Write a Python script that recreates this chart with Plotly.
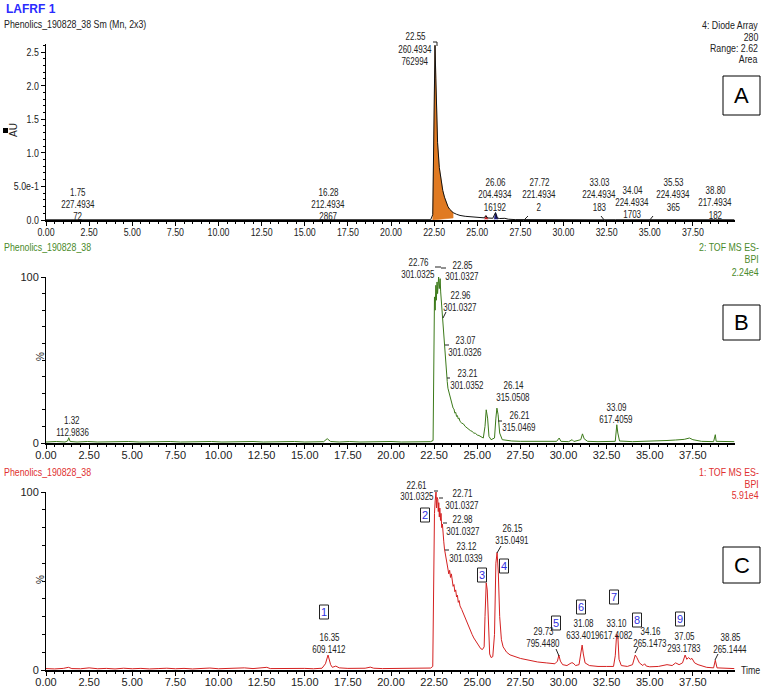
import plotly.graph_objects as go

W, H = 763, 688

# ---------------- data ----------------
# Panel A : Diode array 280 nm (AU)
uv_time = [0.0, 1.0, 1.75, 2.5, 5.0, 7.5, 10.0, 12.5, 15.0, 16.1, 16.28, 16.45, 18.0, 20.0, 22.3,
           22.42, 22.47, 22.5, 22.55, 22.6, 22.65, 22.7, 22.8, 22.9, 23.0, 23.1, 23.2, 23.3, 23.4,
           23.6, 23.8, 24.0, 24.3, 24.6, 25.0, 25.4, 25.5, 25.6, 25.9, 26.06, 26.15, 26.3, 26.6,
           26.8, 27.2, 28.0, 30.0, 32.0, 33.03, 34.04, 35.53, 37.0, 38.8, 39.9]
uv_au = [0.003, 0.003, 0.004, 0.003, 0.003, 0.003, 0.003, 0.003, 0.003, 0.004, 0.012, 0.004, 0.003,
         0.003, 0.004, 0.08, 1.2, 2.35, 2.6, 2.1, 1.55, 1.15, 0.78, 0.58, 0.44, 0.34, 0.26, 0.2,
         0.16, 0.11, 0.085, 0.068, 0.055, 0.046, 0.038, 0.032, 0.065, 0.03, 0.026, 0.11, 0.03,
         0.022, 0.025, 0.012, 0.006, 0.004, 0.003, 0.003, 0.004, 0.006, 0.004, 0.003, 0.004, 0.003]
uv_main_time = [22.42, 22.47, 22.5, 22.55, 22.6, 22.65, 22.7, 22.8, 22.9, 23.0, 23.1, 23.2, 23.3,
                23.4, 23.6, 23.6, 22.42]
uv_main_au = [0.0, 1.2, 2.35, 2.6, 2.1, 1.55, 1.15, 0.78, 0.58, 0.44, 0.34, 0.26, 0.2, 0.16, 0.11,
              0.03, 0.0]
uv_p2_time = [25.42, 25.5, 25.56, 25.62]
uv_p2_au = [0.01, 0.065, 0.05, 0.01]
uv_p3_time = [25.98, 26.06, 26.12, 26.2]
uv_p3_au = [0.01, 0.11, 0.08, 0.01]

# Panel B : TOF MS ES- BPI 2.24e4 (%)
bpi2_time = [0.0, 0.6, 1.1, 1.25, 1.32, 1.4, 1.8, 2.4, 3.0, 3.6, 4.2, 4.8, 5.4, 6.0, 6.6, 7.2, 7.8,
             8.4, 9.0, 9.6, 10.2, 10.8, 11.4, 12.0, 12.6, 13.2, 13.8, 14.4, 15.0, 15.6, 16.1, 16.3,
             16.5, 17.0, 17.6, 18.2, 18.8, 19.4, 20.0, 20.6, 21.2, 21.8, 22.3, 22.44, 22.48, 22.52,
             22.56, 22.6, 22.63, 22.67, 22.7, 22.73, 22.76, 22.8, 22.85, 22.88, 22.92, 22.96, 23.0,
             23.04, 23.07, 23.12, 23.16, 23.21, 23.26, 23.3, 23.35, 23.4, 23.45, 23.5, 23.55, 23.6,
             23.65, 23.7, 23.75, 23.8, 23.85, 23.9, 23.95, 24.0, 24.1, 24.2, 24.3, 24.4, 24.5, 24.6,
             24.7, 24.8, 24.9, 25.0, 25.1, 25.2, 25.35, 25.45, 25.52, 25.6, 25.68, 25.8, 26.0, 26.08,
             26.14, 26.21, 26.3, 26.45, 26.7, 27.0, 27.5, 28.0, 29.0, 29.6, 29.75, 29.85, 30.3, 30.5,
             30.6, 31.0, 31.1, 31.2, 31.4, 32.0, 33.0, 33.05, 33.09, 33.15, 33.25, 34.0, 35.0, 36.0,
             36.5, 37.0, 37.3, 37.5, 38.0, 38.7, 38.8, 38.85, 39.9]
bpi2_pct = [0.6, 0.9, 0.6, 1.2, 3.2, 0.9, 0.6, 0.9, 0.6, 0.8, 0.6, 0.9, 0.6, 0.8, 0.6, 0.9, 0.6, 0.8,
            0.6, 0.9, 0.6, 0.8, 0.6, 0.9, 0.6, 0.8, 0.6, 0.9, 0.6, 0.8, 0.8, 2.6, 0.9, 0.6, 0.9, 0.6,
            0.8, 0.6, 0.9, 0.6, 0.8, 0.6, 0.8, 1.5, 55.0, 88.0, 80.0, 95.0, 86.0, 97.0, 90.0, 96.0,
            100.0, 93.0, 99.0, 91.0, 85.0, 76.0, 70.0, 64.0, 60.0, 52.0, 46.0, 40.0, 37.0, 33.0,
            31.0, 28.5, 27.0, 24.5, 23.5, 21.0, 20.5, 18.0, 18.5, 16.0, 16.5, 14.5, 15.0, 13.0, 12.0,
            11.5, 10.0, 9.0, 8.5, 7.5, 7.0, 6.0, 5.8, 4.8, 4.5, 3.8, 3.0, 10.0, 20.0, 15.0, 4.0, 2.0,
            3.0, 15.0, 21.0, 17.0, 6.0, 2.0, 1.5, 1.2, 1.0, 0.9, 0.8, 1.0, 3.0, 1.0, 0.8, 2.0, 0.9,
            2.0, 5.5, 2.5, 1.0, 0.8, 1.0, 8.0, 11.0, 6.0, 1.2, 0.8, 1.0, 1.5, 1.8, 2.2, 3.0, 2.0, 1.0,
            0.8, 5.0, 1.0, 0.8]

# Panel C : TOF MS ES- BPI 5.91e4 (%)
bpi1_time = [0.0, 0.5, 1.0, 1.3, 1.5, 2.0, 2.5, 3.0, 3.5, 4.0, 4.5, 5.0, 5.5, 6.0, 6.5, 7.0, 7.5,
             8.0, 8.5, 9.0, 9.5, 10.0, 10.5, 11.0, 11.5, 12.0, 12.5, 12.8, 13.0, 13.5, 14.0, 14.5,
             15.0, 15.5, 16.0, 16.2, 16.35, 16.5, 16.6, 16.8, 17.0, 17.5, 18.0, 18.5, 18.8, 19.0,
             19.5, 20.0, 20.5, 21.0, 21.5, 22.0, 22.3, 22.42, 22.48, 22.52, 22.56, 22.61, 22.64,
             22.67, 22.71, 22.74, 22.77, 22.8, 22.83, 22.87, 22.9, 22.94, 22.98, 23.02, 23.06, 23.1,
             23.12, 23.18, 23.25, 23.3, 23.35, 23.4, 23.45, 23.5, 23.55, 23.6, 23.65, 23.7, 23.75,
             23.8, 23.85, 23.9, 23.95, 24.0, 24.1, 24.2, 24.3, 24.4, 24.5, 24.6, 24.7, 24.8, 24.9,
             25.0, 25.1, 25.2, 25.3, 25.4, 25.45, 25.52, 25.58, 25.65, 25.72, 25.8, 25.9, 26.0,
             26.08, 26.15, 26.22, 26.3, 26.4, 26.5, 26.7, 26.9, 27.2, 27.5, 28.0, 28.5, 29.0, 29.5,
             29.65, 29.73, 29.82, 29.95, 30.2, 30.45, 30.55, 30.7, 30.9, 31.0, 31.08, 31.15, 31.25,
             31.5, 32.0, 32.5, 32.9, 33.0, 33.08, 33.15, 33.22, 33.35, 33.7, 34.0, 34.1, 34.16, 34.25,
             34.4, 34.6, 34.7, 34.8, 35.0, 35.5, 35.8, 36.0, 36.3, 36.5, 36.7, 36.9, 37.05, 37.15,
             37.25, 37.35, 37.45, 37.6, 37.8, 38.0, 38.3, 38.7, 38.8, 38.9, 39.2, 39.9]
bpi1_pct = [0.8, 0.6, 0.9, 1.5, 0.8, 0.7, 1.2, 0.7, 0.9, 0.6, 1.0, 0.7, 0.9, 0.6, 0.8, 1.0, 0.7, 0.9,
            0.6, 0.8, 1.1, 0.7, 0.9, 0.7, 1.2, 0.8, 1.0, 1.5, 0.8, 0.9, 0.7, 0.8, 0.9, 0.7, 1.0, 3.5,
            8.4, 3.0, 1.5, 2.2, 1.2, 0.9, 0.8, 1.0, 1.6, 1.0, 0.8, 0.9, 0.7, 0.9, 0.8, 1.0, 1.1, 2.0,
            60.0, 88.0, 95.0, 100.0, 91.0, 97.0, 96.0, 89.0, 94.0, 86.0, 91.0, 84.0, 88.0, 80.0,
            82.0, 74.0, 72.0, 68.0, 67.0, 62.0, 60.0, 57.0, 54.0, 56.0, 52.0, 54.0, 49.0, 47.0, 48.0,
            44.0, 45.0, 41.0, 42.0, 38.0, 39.0, 36.0, 34.0, 31.5, 29.0, 27.0, 24.0, 22.0, 20.0,
            18.0, 16.5, 14.5, 13.5, 12.0, 11.5, 13.0, 30.0, 49.0, 45.0, 20.0, 9.0, 7.0, 7.5, 20.0,
            60.0, 66.0, 55.0, 30.0, 17.0, 13.0, 10.0, 8.5, 7.5, 6.5, 5.5, 4.5, 4.0, 3.5, 5.0, 8.4,
            5.0, 3.0, 2.5, 4.0, 4.0, 2.5, 3.0, 9.0, 14.0, 9.0, 4.0, 2.5, 2.0, 2.0, 2.0, 8.0, 20.0,
            19.0, 6.0, 2.5, 2.0, 3.0, 7.0, 8.4, 7.0, 4.0, 2.5, 3.5, 2.2, 1.8, 2.0, 2.5, 3.0, 2.5, 4.0,
            3.0, 4.0, 8.4, 6.0, 7.0, 6.0, 6.5, 4.0, 3.0, 2.5, 1.5, 1.2, 5.5, 1.2, 1.0, 0.8]

x_tick_vals = [0, 2.5, 5, 7.5, 10, 12.5, 15, 17.5, 20, 22.5, 25, 27.5, 30, 32.5, 35, 37.5]
x_tick_text = ["0.00", "2.50", "5.00", "7.50", "10.00", "12.50", "15.00", "17.50", "20.00",
               "22.50", "25.00", "27.50", "30.00", "32.50", "35.00", "37.50"]
ya_tick_vals = [0, 0.5, 1.0, 1.5, 2.0, 2.5]
ya_tick_text = ["0.0", "5.0e-1", "1.0", "1.5", "2.0", "2.5"]

# peak labels (text)
labels_a = [["22.55", "260.4934", "762994"], ["1.75", "227.4934", "72"],
            ["16.28", "212.4934", "2867"], ["26.06", "204.4934", "16192"],
            ["27.72", "221.4934", "2"], ["33.03", "224.4934", "183"],
            ["34.04", "224.4934", "1703"], ["35.53", "224.4934", "365"],
            ["38.80", "217.4934", "182"]]
labels_b = [["22.76", "301.0325"], ["22.85", "301.0327"], ["22.96", "301.0327"],
            ["23.07", "301.0326"], ["23.21", "301.0352"], ["26.14", "315.0508"],
            ["26.21", "315.0469"], ["33.09", "617.4059"], ["1.32", "112.9836"]]
labels_c = [["22.61", "301.0325"], ["22.71", "301.0327"], ["22.98", "301.0327"],
            ["23.12", "301.0339"], ["26.15", "315.0491"], ["29.73", "795.4480"],
            ["31.08", "633.4019"], ["33.10", "617.4082"], ["34.16", "265.1473"],
            ["37.05", "293.1783"], ["38.85", "265.1444"], ["16.35", "609.1412"]]
compound_ids = ["1", "2", "3", "4", "5", "6", "7", "8", "9"]

# ---------------- figure ----------------
FONT = "Liberation Sans, Arial, sans-serif"
FS = 10


def fx(px):
    return px / W


def fy(py):
    return 1 - py / H


fig = go.Figure()
fig.add_trace(go.Scatter(x=uv_main_time, y=uv_main_au, fill="toself", fillcolor="#e07a22",
                         line=dict(color="#e07a22", width=0.5), mode="lines",
                         xaxis="x", yaxis="y", hoverinfo="skip"))
fig.add_trace(go.Scatter(x=uv_p2_time, y=uv_p2_au, fill="toself", fillcolor="#c81e1e",
                         line=dict(color="#c81e1e", width=0.5), mode="lines",
                         xaxis="x", yaxis="y"))
fig.add_trace(go.Scatter(x=uv_p3_time, y=uv_p3_au, fill="toself", fillcolor="#1a1a80",
                         line=dict(color="#1a1a80", width=0.5), mode="lines",
                         xaxis="x", yaxis="y"))
fig.add_trace(go.Scatter(x=uv_time, y=uv_au, mode="lines", line=dict(color="#111111", width=1),
                         xaxis="x", yaxis="y"))
fig.add_trace(go.Scatter(x=bpi2_time, y=bpi2_pct, mode="lines",
                         line=dict(color="#3c7a1a", width=1), xaxis="x2", yaxis="y2"))
fig.add_trace(go.Scatter(x=bpi1_time, y=bpi1_pct, mode="lines",
                         line=dict(color="#d42020", width=1), xaxis="x3", yaxis="y3"))

XL, XR = 46, 735
xr = [0, (XR - XL) / 17.25]
panels = [(44, 220), (277, 443), (492, 670)]

xcommon = dict(range=xr, domain=[fx(XL), fx(XR)], tickmode="array", tickvals=x_tick_vals,
               ticktext=x_tick_text, showline=True, linecolor="black", linewidth=2,
               ticks="outside", ticklen=4, tickwidth=1, tickcolor="black", automargin=False,
               ticklabelstandoff=-3,
               minor=dict(dtick=0.5, ticks="outside", ticklen=2, tickcolor="black"),
               showgrid=False, zeroline=False,
               tickfont=dict(family=FONT, size=11, color="#222"), fixedrange=True)
ycommon = dict(showline=True, linecolor="black", linewidth=1, ticks="outside", ticklen=4,
               tickcolor="black", showgrid=False, zeroline=False, automargin=False,
               tickfont=dict(family=FONT, size=11, color="#222"), fixedrange=True)

layout = dict(width=W, height=H, autosize=False, margin=dict(l=0, r=0, t=0, b=0, pad=0),
              showlegend=False, plot_bgcolor="white", paper_bgcolor="white")
for i, (top, bot) in enumerate(panels):
    xs = "xaxis" if i == 0 else f"xaxis{i+1}"
    ys = "yaxis" if i == 0 else f"yaxis{i+1}"
    yname = "y" if i == 0 else f"y{i+1}"
    xname = "x" if i == 0 else f"x{i+1}"
    layout[xs] = dict(xcommon, anchor=yname)
    ydict = dict(ycommon, anchor=xname, domain=[fy(bot), fy(top)])
    if i == 0:
        ydict.update(range=[0, 2.62], tickmode="array", tickvals=ya_tick_vals,
                     ticktext=ya_tick_text,
                     minor=dict(dtick=0.1, ticks="outside", ticklen=2, tickcolor="black"))
    else:
        ydict.update(range=[0, 100], tickmode="array", tickvals=[0, 100], ticktext=["0", "100"],
                     minor=dict(tickmode="array", tickvals=list(range(10, 100, 10)),
                                ticks="outside", ticklen=3, tickcolor="black"))
    layout[ys] = ydict
fig.update_layout(**layout)

ann = []
shapes = []


def text(x, y, s, color="#222", size=FS, anchor="center", family=FONT, angle=0, bold=False):
    if bold:
        s = f"<b>{s}</b>"
    ann.append(dict(x=fx(x), y=fy(y), xref="paper", yref="paper", text=s, showarrow=False,
                    xanchor=anchor, yanchor="middle", textangle=angle, borderpad=0,
                    font=dict(family=family, size=size, color=color)))


def block(x, y0, lines, step=12, color="#222"):
    for k, s in enumerate(lines):
        text(x, y0 + k * step, s, color=color)


def line(x0, y0, x1, y1, color="#222", w=1):
    shapes.append(dict(type="line", xref="paper", yref="paper", x0=fx(x0), y0=fy(y0),
                       x1=fx(x1), y1=fy(y1), line=dict(color=color, width=w)))


def box(x0, y0, x1, y1, letter):
    shapes.append(dict(type="rect", xref="paper", yref="paper", x0=fx(x0), y0=fy(y0),
                       x1=fx(x1), y1=fy(y1), line=dict(color="black", width=1)))
    text((x0 + x1) / 2, (y0 + y1) / 2, letter, color="black", size=22, angle=0.001)


# headers
text(5, 9, "LAFRF 1", color="#2b2bff", size=12, anchor="left", bold=True, angle=0.001)
text(3, 24, "Phenolics_190828_38 Sm (Mn, 2x3)", anchor="left", size=11)
for k, s in enumerate(["4: Diode Array", "280", "Range: 2.62", "Area"]):
    text(759, 25 + k * 11.5, s, anchor="right", size=11)
text(3, 247, "Phenolics_190828_38", color="#4a8a2a", anchor="left", size=11)
for k, s in enumerate(["2: TOF MS ES-", "BPI", "2.24e4"]):
    text(760, 247 + k * 12.5, s, color="#4a8a2a", anchor="right", size=11)
text(3, 472, "Phenolics_190828_38", color="#e03030", anchor="left", size=11)
for k, s in enumerate(["1: TOF MS ES-", "BPI", "5.91e4"]):
    text(760, 472 + k * 11.5, s, color="#e03030", anchor="right", size=11)

box(723, 76, 760, 115, "A")
box(723, 305, 760, 340, "B")
box(723, 547, 760, 583, "C")

# y titles
text(13, 130, "AU", angle=-90)
shapes.append(dict(type="rect", xref="paper", yref="paper", x0=fx(3), x1=fx(8), y0=fy(133),
                   y1=fy(128), fillcolor="black", line=dict(width=0)))
text(40, 357, "%", angle=-90)
text(40, 580, "%", angle=-90)
text(740, 670, "Time", anchor="left", size=11)

# panel A labels
pos_a = [(415, 37), (78, 192), (328, 192), (495, 183), (539, 183), (599, 183), (632, 190),
         (673, 183), (715, 191)]
for (x, y), lab in zip(pos_a, labels_a):
    block(x, y, lab)
line(433, 42, 437, 42)
line(437, 42, 437, 46)
line(523, 221, 528, 216)
line(601, 216, 605, 221)
line(649, 221, 653, 216)

# panel B labels
pos_b = [(418, 262), (462, 265), (460, 295), (465, 340), (467, 373), (513, 385), (519, 415),
         (616, 407), (72, 420)]
for (x, y), lab in zip(pos_b, labels_b):
    block(x, y, lab)
line(435, 267, 441, 267)
line(441, 268, 446, 268)
line(443, 318, 446, 312)
line(445, 345, 449, 345)
line(447, 378, 450, 378)
line(498, 421, 502, 421)

# panel C labels
pos_c = [(417, 485), (462, 493), (463, 519), (466, 546), (512, 528), (543, 631), (583, 623),
         (616, 623), (650, 631), (684, 636), (730, 637), (329, 637)]
for (x, y), lab in zip(pos_c, labels_c):
    block(x, y, lab)
line(434, 491, 438, 491)
line(439, 498, 443, 498)
line(443, 523, 447, 523)
line(445, 550, 449, 550)
line(497, 553, 501, 546)
line(559, 656, 556, 649)
line(635, 653, 638, 647)
line(715, 660, 718, 654)

id_pos = [(324, 612), (425, 515), (482, 575), (504, 566), (556, 623), (581, 607), (614, 597),
          (637, 620), (680, 619)]
for (x, y), s in zip(id_pos, compound_ids):
    shapes.append(dict(type="rect", xref="paper", yref="paper", x0=fx(x - 4.5), x1=fx(x + 4.5),
                       y0=fy(y + 7), y1=fy(y - 7), line=dict(color="#222", width=1)))
    text(x, y, s, color="#3030e0", size=11, angle=0.001)

fig.update_layout(annotations=ann, shapes=shapes)

# narrow the digits (reference uses a condensed face); textangle!=0 marks texts left as-is
post = """
document.body.style.margin='0';
document.body.style.overflow='hidden';
var gd=document.getElementById('{plot_id}');
var S=0.8;
function sq(t,mode){var b=t.getBBox();var p=mode==='left'?b.x:(mode==='right'?b.x+b.width:b.x+b.width/2);
 var old=t.getAttribute('transform')||'';
 t.setAttribute('transform',old+' translate('+p+',0) scale('+S+',1) translate('+(-p)+',0)');}
gd.querySelectorAll('g.annotation').forEach(function(g){
 var i=+g.getAttribute('data-index');var a=gd.layout.annotations[i];
 if(!a||a.textangle)return;var t=g.querySelector('text');if(!t)return;
 sq(t,a.xanchor==='left'?'left':(a.xanchor==='right'?'right':'center'));});
gd.querySelectorAll('.xtick text').forEach(function(t){sq(t,'center');});
gd.querySelectorAll('.ytick text').forEach(function(t){sq(t,'right');});
"""
fig.write_html("out.html", post_script=post, config={"displayModeBar": False})
